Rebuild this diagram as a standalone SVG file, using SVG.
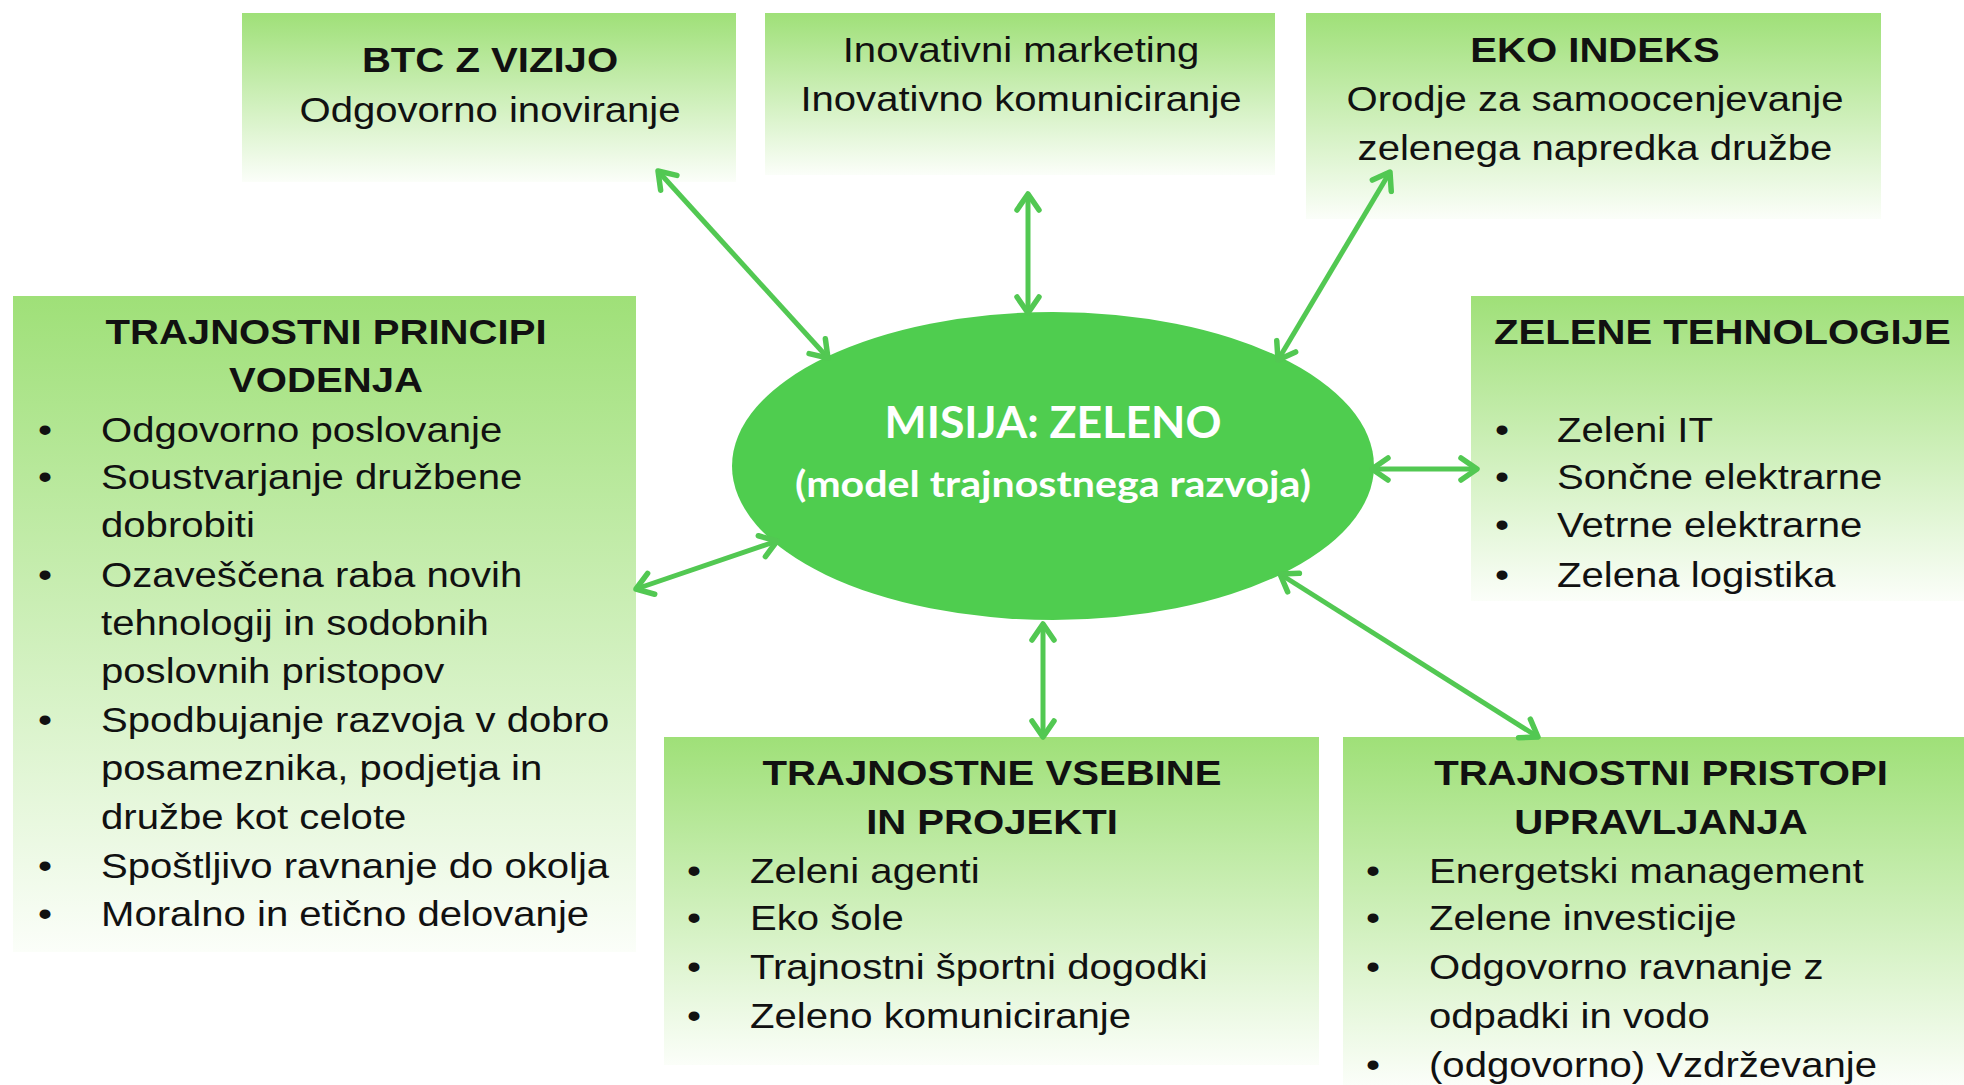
<svg xmlns="http://www.w3.org/2000/svg" width="1964" height="1085" viewBox="0 0 1964 1085">
<defs>
<linearGradient id="boxg" x1="0" y1="0" x2="0" y2="1">
<stop offset="0" stop-color="#9fe078"/>
<stop offset="1" stop-color="#fbfef9"/>
</linearGradient>
<marker id="chev" markerUnits="userSpaceOnUse" viewBox="0 0 22 26" refX="19" refY="13" markerWidth="22" markerHeight="26" orient="auto-start-reverse" overflow="visible">
<path d="M3,2 L19,13 L3,24" fill="none" stroke="#52c852" stroke-width="5.5" stroke-linecap="round" stroke-linejoin="round"/>
</marker>
</defs>
<style>
.box{fill:url(#boxg);}
.t{font-family:"Liberation Sans",Arial,sans-serif;font-size:35px;fill:#111;}
.b{font-weight:bold;}
.c{text-anchor:middle;}
.conn{stroke:#52c852;stroke-width:5;fill:none;marker-start:url(#chev);marker-end:url(#chev);}
.mis{font-family:Lato,"Open Sans",sans-serif;font-weight:bold;fill:#ffffff;text-anchor:middle;}
</style>
<rect width="1964" height="1085" fill="#ffffff"/>

<g id="btc">
<rect class="box" x="242" y="13" width="494" height="169"/>
<g transform="translate(490,0) scale(1.146,1)">
<text class="t b c" x="0" y="72">BTC Z VIZIJO</text>
<text class="t c" x="0" y="122">Odgovorno inoviranje</text>
</g>
</g>

<g id="marketing">
<rect class="box" x="765" y="13" width="510" height="162"/>
<g transform="translate(1021,0) scale(1.146,1)">
<text class="t c" x="0" y="62">Inovativni marketing</text>
<text class="t c" x="0" y="111">Inovativno komuniciranje</text>
</g>
</g>

<g id="eko">
<rect class="box" x="1306" y="13" width="575" height="206"/>
<g transform="translate(1595,0) scale(1.146,1)">
<text class="t b c" x="0" y="62">EKO INDEKS</text>
<text class="t c" x="0" y="111">Orodje za samoocenjevanje</text>
<text class="t c" x="0" y="160">zelenega napredka družbe</text>
</g>
</g>

<g id="principi">
<rect class="box" x="13" y="296" width="623" height="656"/>
<g transform="translate(326,0) scale(1.146,1)">
<text class="t b c" x="0" y="344">TRAJNOSTNI PRINCIPI</text>
<text class="t b c" x="0" y="392">VODENJA</text>
</g>
<g transform="translate(38,0) scale(1.146,1)">
<text class="t" x="0" y="442">•</text>
<text class="t" x="0" y="489">•</text>
<text class="t" x="0" y="587">•</text>
<text class="t" x="0" y="732">•</text>
<text class="t" x="0" y="878">•</text>
<text class="t" x="0" y="926">•</text>
</g>
<g transform="translate(101,0) scale(1.146,1)">
<text class="t" x="0" y="442">Odgovorno poslovanje</text>
<text class="t" x="0" y="489">Soustvarjanje družbene</text>
<text class="t" x="0" y="537">dobrobiti</text>
<text class="t" x="0" y="587">Ozaveščena raba novih</text>
<text class="t" x="0" y="635">tehnologij in sodobnih</text>
<text class="t" x="0" y="683">poslovnih pristopov</text>
<text class="t" x="0" y="732">Spodbujanje razvoja v dobro</text>
<text class="t" x="0" y="780">posameznika, podjetja in</text>
<text class="t" x="0" y="829">družbe kot celote</text>
<text class="t" x="0" y="878">Spoštljivo ravnanje do okolja</text>
<text class="t" x="0" y="926">Moralno in etično delovanje</text>
</g>
</g>

<g id="tehnologije">
<rect class="box" x="1471" y="296" width="493" height="305"/>
<g transform="translate(1494,0) scale(1.146,1)">
<text class="t b" x="0" y="344">ZELENE TEHNOLOGIJE</text>
</g>
<g transform="translate(1495,0) scale(1.146,1)">
<text class="t" x="0" y="442">•</text>
<text class="t" x="0" y="489">•</text>
<text class="t" x="0" y="537">•</text>
<text class="t" x="0" y="587">•</text>
</g>
<g transform="translate(1557,0) scale(1.146,1)">
<text class="t" x="0" y="442">Zeleni IT</text>
<text class="t" x="0" y="489">Sončne elektrarne</text>
<text class="t" x="0" y="537">Vetrne elektrarne</text>
<text class="t" x="0" y="587">Zelena logistika</text>
</g>
</g>

<g id="vsebine">
<rect class="box" x="664" y="737" width="655" height="328"/>
<g transform="translate(992,0) scale(1.146,1)">
<text class="t b c" x="0" y="785">TRAJNOSTNE VSEBINE</text>
<text class="t b c" x="0" y="834">IN PROJEKTI</text>
</g>
<g transform="translate(687,0) scale(1.146,1)">
<text class="t" x="0" y="883">•</text>
<text class="t" x="0" y="930">•</text>
<text class="t" x="0" y="979">•</text>
<text class="t" x="0" y="1028">•</text>
</g>
<g transform="translate(750,0) scale(1.146,1)">
<text class="t" x="0" y="883">Zeleni agenti</text>
<text class="t" x="0" y="930">Eko šole</text>
<text class="t" x="0" y="979">Trajnostni športni dogodki</text>
<text class="t" x="0" y="1028">Zeleno komuniciranje</text>
</g>
</g>

<g id="pristopi">
<rect class="box" x="1343" y="737" width="621" height="348"/>
<g transform="translate(1661,0) scale(1.146,1)">
<text class="t b c" x="0" y="785">TRAJNOSTNI PRISTOPI</text>
<text class="t b c" x="0" y="834">UPRAVLJANJA</text>
</g>
<g transform="translate(1366,0) scale(1.146,1)">
<text class="t" x="0" y="883">•</text>
<text class="t" x="0" y="930">•</text>
<text class="t" x="0" y="979">•</text>
<text class="t" x="0" y="1077">•</text>
</g>
<g transform="translate(1429,0) scale(1.146,1)">
<text class="t" x="0" y="883">Energetski management</text>
<text class="t" x="0" y="930">Zelene investicije</text>
<text class="t" x="0" y="979">Odgovorno ravnanje z</text>
<text class="t" x="0" y="1028">odpadki in vodo</text>
<text class="t" x="0" y="1077">(odgovorno) Vzdrževanje</text>
</g>
</g>

<g id="misija">
<ellipse cx="1053" cy="466" rx="321" ry="154" fill="#4fcd4f"/>
<text class="mis" x="1053" y="438" font-size="43" textLength="337" lengthAdjust="spacingAndGlyphs">MISIJA: ZELENO</text>
<text class="mis" x="1053" y="497" font-size="36" textLength="516" lengthAdjust="spacingAndGlyphs">(model trajnostnega razvoja)</text>
</g>

<g id="connectors">
<line class="conn" x1="658" y1="171" x2="828" y2="358"/>
<line class="conn" x1="1028" y1="194" x2="1028" y2="313"/>
<line class="conn" x1="1390" y1="172" x2="1278" y2="360"/>
<line class="conn" x1="1372" y1="469" x2="1477" y2="469"/>
<line class="conn" x1="636" y1="589" x2="777" y2="541"/>
<line class="conn" x1="1043" y1="624" x2="1043" y2="737"/>
<line class="conn" x1="1280" y1="574" x2="1538" y2="737"/>
</g>
</svg>
